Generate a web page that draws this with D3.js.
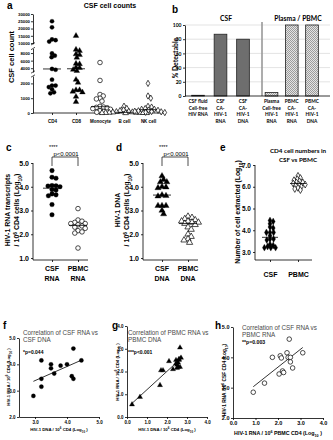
<!DOCTYPE html>
<html>
<head>
<meta charset="utf-8">
<script src="https://cdn.jsdelivr.net/npm/d3@7"></script>
<style>
  body { margin: 0; background: #fff; }
  svg { display: block; font-family: "Liberation Sans", Arial, sans-serif; }
</style>
</head>
<body>
<script>
// ---- data ----
// a: CSF cell counts
const cellTypes = ["CD4", "CD8", "Monocyte", "B cell", "NK cell"];
const cd4Cells = [25000, 20800, 12500, 12000, 11000, 7900, 7300, 6900, 3800, 3600, 2250, 1850, 1850, 1750, 1600, 1400, 1330];
const cd8Cells = [15000, 8900, 8600, 7700, 7500, 6800, 5200, 5100, 4200, 4100, 3600, 3300, 2250, 2050, 1550, 1550, 1450, 1400, 1100, 750];
const monoCells = [5500, 2200, 1250, 1150, 1000, 950, 800, 450, 400, 380, 350, 300, 250, 150, 100, 50];
const bCells = [450, 300, 200, 150, 100, 80, 60, 50, 40, 30, 20, 15, 10, 5, 5, 0];
const nkCells = [2000, 1150, 1000, 450, 400, 300, 250, 250, 200, 180, 150, 120, 100, 80, 50, 30];
const cellTicksLow = [0, 1000, 2000];
const cellTicksMid = [4000, 6000, 8000];
const cellTicksHigh = [10000, 15000, 20000, 25000, 30000];

// b: % detectable
const csfAssays = ["csfFree", "csfRna", "csfDna"];
const plasmaAssays = ["plasmaFree", "pbmcRna", "pbmcDna"];
const assayLines = {
  csfFree: ["CSF fluid", "Cell-free", "HIV RNA"],
  csfRna: ["CSF", "CA-", "HIV-1", "RNA"],
  csfDna: ["CSF", "CA-", "HIV-1", "DNA"],
  plasmaFree: ["Plasma", "Cell-free", "HIV-1", "RNA"],
  pbmcRna: ["PBMC", "CA-", "HIV-1", "RNA"],
  pbmcDna: ["PBMC", "CA-", "HIV-1", "DNA"]
};
const pctDetectable = { csfFree: 1, csfRna: 87, csfDna: 80, plasmaFree: 5, pbmcRna: 100, pbmcDna: 100 };
const pctTicks = [0, 20, 40, 60, 80, 100];

// c, d: per 10^6 CD4 (log10)
const csfRna = [4.68, 4.4, 4.36, 4.05, 4.03, 4.0, 4.04, 3.86, 3.88, 3.66, 3.62, 3.7, 3.25, 2.82];
const pbmcRna = [3.08, 2.6, 2.55, 2.5, 2.45, 2.45, 2.4, 2.35, 2.3, 2.25, 2.15, 2.1, 2.05, 1.42];
const csfDna = [4.45, 4.3, 4.2, 4.2, 4.0, 3.98, 3.95, 3.62, 3.65, 3.6, 3.2, 3.2, 3.2, 3.0, 2.85];
const pbmcDna = [2.75, 2.7, 2.65, 2.6, 2.55, 2.55, 2.5, 2.5, 2.45, 2.4, 2.3, 2.2, 2.0, 1.9, 1.8, 1.75, 1.65];
const logTicks15 = [1, 2, 3, 4, 5];

// e: CD4 cells extracted (log10)
const csfCd4 = [4.45, 4.4, 4.3, 4.15, 4.1, 3.9, 3.9, 3.9, 3.75, 3.6, 3.6, 3.55, 3.35, 3.3, 3.25, 3.2, 3.2, 3.2];
const pbmcCd4 = [6.5, 6.4, 6.35, 6.3, 6.25, 6.2, 6.2, 6.15, 6.1, 6.1, 6.05, 6.0, 5.95, 5.9, 5.85];
const logTicks37 = [3, 4, 5, 6, 7];

// f, g, h: correlations
const fDna = [2.95, 3.2, 3.2, 3.2, 3.5, 3.5, 3.6, 3.8, 4.0, 4.15, 4.2, 4.2, 4.45];
const fRna = [2.8, 4.15, 3.15, 3.45, 4.0, 3.85, 3.65, 3.95, 4.0, 3.55, 3.45, 4.6, 4.15];
const gDna = [0.25, 0.65, 1.65, 1.7, 1.8, 2.1, 2.3, 2.45, 2.45, 2.5, 2.5, 2.55, 2.55, 2.6, 2.6, 2.65, 2.65, 2.7];
const gRna = [0.55, 0.88, 1.4, 2.05, 2.05, 2.45, 2.1, 2.5, 2.35, 2.3, 2.15, 2.2, 2.4, 2.5, 2.55, 3.05, 2.2, 2.6];
const hPbmcRna = [0.9, 1.4, 1.75, 2.05, 2.1, 2.15, 2.2, 2.25, 2.4, 2.45, 2.5, 2.55, 2.55, 2.65, 3.1];
const hCsfRna = [2.85, 3.15, 4.0, 3.45, 4.05, 3.98, 3.55, 3.5, 4.15, 4.0, 4.6, 4.0, 3.85, 3.65, 4.15];

// ---- helpers ----
const svg = d3.select("body").append("svg").attr("width", 333).attr("height", 440);
const calibri = "Lato, 'Open Sans', sans-serif";

function rich(t, parts) {
  parts.forEach(p => {
    const [s, k] = typeof p === "string" ? [p, null] : p;
    const ts = t.append("tspan").text(s);
    if (k) ts.attr("baseline-shift", k === "sup" ? "super" : "sub").attr("font-size", "70%");
  });
  return t;
}

function styleAxis(g, size, weight) {
  g.attr("font-size", size).attr("font-family", null).attr("font-weight", weight || "bold");
  g.selectAll(".domain, .tick line").attr("stroke", "#000").attr("stroke-width", 0.8);
  g.selectAll("text").attr("fill", "#000");
  return g;
}

function catAxis(x, y0, x0, x1, size) {
  const g = svg.append("g").attr("transform", `translate(0,${y0})`)
    .call(d3.axisBottom(x).tickSize(2).tickSizeOuter(0).tickFormat(""));
  g.select(".domain").remove();
  g.append("line").attr("x1", x0).attr("x2", x1).attr("stroke", "#000").attr("stroke-width", 0.8);
  styleAxis(g, size);
  return g;
}

// simple beeswarm so overlapping values spread sideways (some overlap allowed, like the original)
function swarm(vals, y, cx, r) {
  const pts = vals.map(v => ({ v, y: y(v) })).sort((a, b) => d3.ascending(a.y, b.y));
  const done = [];
  pts.forEach(p => {
    for (let k = 0; k < 200; k++) {
      const off = (k % 2 ? 1 : -1) * Math.ceil(k / 2) * 0.4;
      if (done.every(q => Math.hypot(q.x - (cx + off), q.y - p.y) >= 2 * r)) { p.x = cx + off; break; }
    }
    done.push(p);
  });
  return pts;
}

const shapes = { circle: d3.symbolCircle, triangle: d3.symbolTriangle, diamond: d3.symbolDiamond };
function marks(pts, shape, filled, r) {
  const area = shape === "circle" ? Math.PI * r * r : shape === "triangle" ? 2.0 * r * r * 1.6 : 2.0 * r * r * 1.3;
  svg.append("g").selectAll("path").data(pts).join("path")
    .attr("transform", d => `translate(${d.x},${d.y})`)
    .attr("d", d3.symbol(shapes[shape], area))
    .attr("fill", filled ? "#000" : "#fff")
    .attr("stroke", "#000").attr("stroke-width", filled ? 0.3 : 0.7);
}

function medianLine(vals, y, cx, half) {
  const m = d3.median(vals);
  svg.append("line").attr("x1", cx - half).attr("x2", cx + half)
    .attr("y1", y(m)).attr("y2", y(m)).attr("stroke", "#000").attr("stroke-width", 0.8);
}

function panelLetter(s, x, y) {
  svg.append("text").attr("x", x).attr("y", y).attr("font-size", 10).attr("font-weight", "bold").text(s);
}

// ---- a ----
panelLetter("a", 7, 9);
svg.append("text").attr("x", 110).attr("y", 8).attr("text-anchor", "middle")
  .attr("font-size", 7).attr("font-weight", "bold").text("CSF cell counts");

const aSegs = [
  { s: d3.scaleLinear([0, 2500], [113, 76]), ticks: cellTicksLow },
  { s: d3.scaleLinear([3000, 9200], [72, 48.5]), ticks: cellTicksMid },
  { s: d3.scaleLinear([9500, 30000], [43.8, 14]), ticks: cellTicksHigh }
];
const ya = v => v <= 2500 ? aSegs[0].s(v) : v <= 9200 ? aSegs[1].s(v) : aSegs[2].s(v);
aSegs.forEach((seg, i) => {
  const g = svg.append("g").attr("transform", "translate(33,0)")
    .call(d3.axisLeft(seg.s).tickValues(seg.ticks).tickSize(2).tickSizeOuter(0).tickPadding(1).tickFormat(d3.format("d")));
  styleAxis(g, 4.3);
  seg.s.range().forEach((yy, j) => {
    if ((i === 0 && j === 0) || (i === 2 && j === 1)) return;
    svg.append("line").attr("x1", 31).attr("x2", 35).attr("y1", yy + 1.2).attr("y2", yy - 1.2)
      .attr("stroke", "#000").attr("stroke-width", 0.7);
  });
});
svg.append("text").attr("transform", "translate(14,57) rotate(-90)").attr("text-anchor", "middle")
  .attr("font-size", 7.5).attr("font-weight", "bold").text("CSF cell count");

const xa = d3.scalePoint(cellTypes, [52, 148]);
const ax = catAxis(xa, 113, 33, 163, 4.5);
ax.selectAll(".tick").append("text").attr("y", 10).attr("text-anchor", "middle")
  .attr("fill", "#000").text(d => d);

const aGroups = [
  [cd4Cells, "circle", true], [cd8Cells, "triangle", true], [monoCells, "circle", false],
  [bCells, "triangle", false], [nkCells, "diamond", false]
];
aGroups.forEach(([vals, shape, filled], i) => {
  const cx = xa(cellTypes[i]);
  marks(swarm(vals, ya, cx, 1.75), shape, filled, shape === "circle" && !filled ? 2.3 : 2.1);
  medianLine(vals, ya, cx, 9);
});

// ---- b ----
panelLetter("b", 172, 13);
const yb = d3.scaleLinear([0, 100], [96, 25]);
const xb1 = d3.scalePoint(csfAssays, [198, 243]);
const xb2 = d3.scalePoint(plasmaAssays, [271.5, 312]);
const xbPos = k => csfAssays.includes(k) ? xb1(k) : xb2(k);
const barW = 12.7, bLeft = 185, bRight = 330, dividerX = 262;

const defs = svg.append("defs");
const pat = defs.append("pattern").attr("id", "chk").attr("width", 2).attr("height", 2)
  .attr("patternUnits", "userSpaceOnUse");
pat.append("rect").attr("width", 2).attr("height", 2).attr("fill", "#e4e4e4");
pat.append("rect").attr("width", 1).attr("height", 1).attr("fill", "#9c9c9c");
pat.append("rect").attr("x", 1).attr("y", 1).attr("width", 1).attr("height", 1).attr("fill", "#9c9c9c");

svg.append("g").selectAll("line").data(pctTicks.slice(1)).join("line")
  .attr("x1", bLeft).attr("x2", bRight).attr("y1", d => yb(d)).attr("y2", d => yb(d))
  .attr("stroke", "#dcdcdc").attr("stroke-width", 0.8);
svg.append("line").attr("x1", dividerX).attr("x2", dividerX).attr("y1", 22).attr("y2", yb(0))
  .attr("stroke", "#999").attr("stroke-width", 1.6);

const allAssays = csfAssays.concat(plasmaAssays);
svg.append("g").selectAll("rect").data(allAssays).join("rect")
  .attr("x", d => xbPos(d) - barW / 2).attr("width", barW)
  .attr("y", d => yb(pctDetectable[d])).attr("height", d => yb(0) - yb(pctDetectable[d]))
  .attr("fill", d => csfAssays.includes(d) ? "#6e6e6e" : "url(#chk)")
  .attr("stroke", "#222").attr("stroke-width", 0.8);

const gb = svg.append("g").attr("transform", `translate(${bLeft},0)`)
  .call(d3.axisLeft(yb).tickValues(pctTicks).tickSize(2).tickSizeOuter(0).tickPadding(1.5));
styleAxis(gb, 5).attr("font-family", calibri);
svg.append("line").attr("x1", bLeft).attr("x2", bRight).attr("y1", yb(0)).attr("y2", yb(0))
  .attr("stroke", "#000").attr("stroke-width", 0.8);
svg.append("text").attr("transform", "translate(178,58) rotate(-90)").attr("text-anchor", "middle")
  .attr("font-family", calibri).attr("font-size", 6.8).attr("font-weight", "bold").text("% Detectable");
svg.append("text").attr("x", 226).attr("y", 21).attr("text-anchor", "middle").attr("font-family", calibri)
  .attr("font-size", 6.8).attr("font-weight", "bold").text("CSF");
svg.append("text").attr("x", 298).attr("y", 21).attr("text-anchor", "middle").attr("font-family", calibri)
  .attr("font-size", 6.8).attr("font-weight", "bold").text("Plasma / PBMC");
allAssays.forEach(k => {
  const t = svg.append("text").attr("text-anchor", "middle").attr("font-family", calibri)
    .attr("font-size", 4.8).attr("font-weight", "bold");
  assayLines[k].forEach((ln, i) => {
    t.append("tspan").attr("x", xbPos(k)).attr("y", 103 + i * 6.6).text(ln);
  });
});

// ---- c, d ----
function dotPanel(o) {
  panelLetter(o.letter, o.ox + 6, 151);
  const y = d3.scaleLinear([1, 5], [258, 163]);
  const x = d3.scalePoint(o.cats, [o.ox + 52, o.ox + 78]);
  const g = svg.append("g").attr("transform", `translate(${o.ox + 33},0)`)
    .call(d3.axisLeft(y).tickValues(logTicks15).tickSize(2).tickSizeOuter(0).tickPadding(2));
  g.select(".domain").attr("d", "M0,163V260");
  styleAxis(g, 7);
  catAxis(x, 260, o.ox + 33, o.ox + 88, 7);
  o.cats.forEach((c, i) => {
    const t = svg.append("text").attr("text-anchor", "middle").attr("font-size", 7).attr("font-weight", "bold");
    t.append("tspan").attr("x", x(c)).attr("y", 271).text(c);
    t.append("tspan").attr("x", x(c)).attr("y", 281).text(o.sub);
  });
  const yl = svg.append("text").attr("transform", `translate(${o.ox + 18},210) rotate(-90)`)
    .attr("text-anchor", "middle").attr("font-size", 7).attr("font-weight", "bold");
  yl.append("tspan").attr("x", 0).attr("dy", -8).text(o.ylab);
  const l2 = yl.append("tspan").attr("x", 0).attr("dy", 8.5);
  rich(l2, ["/ 10", ["6", "sup"], " CD4 cells (Log", ["10", "sub"], ")"]);
  // significance bracket
  const x0 = x(o.cats[0]), x1 = x(o.cats[1]);
  svg.append("path").attr("d", `M${x0},166V157H${x1}V166`).attr("fill", "none")
    .attr("stroke", "#000").attr("stroke-width", 0.7);
  svg.append("text").attr("x", x0 - 3).attr("y", 148.5).attr("font-size", 5.5).attr("fill", "#000").text("****");
  svg.append("text").attr("x", (x0 + x1) / 2 + 1).attr("y", 155.8).attr("text-anchor", "middle")
    .attr("font-size", 6).text("p<0.0001");
  o.groups.forEach(([vals, shape, filled], i) => {
    const cx = x(o.cats[i]);
    marks(swarm(vals, y, cx, 1.9), shape, filled, 2.3);
    medianLine(vals, y, cx, 9);
  });
}
dotPanel({ letter: "c", ox: 0, cats: ["CSF", "PBMC"], sub: "RNA", ylab: "HIV-1 RNA transcripts",
  groups: [[csfRna, "circle", true], [pbmcRna, "circle", false]] });
dotPanel({ letter: "d", ox: 110, cats: ["CSF", "PBMC"], sub: "DNA", ylab: "HIV-1 DNA",
  groups: [[csfDna, "triangle", true], [pbmcDna, "triangle", false]] });

// ---- e ----
panelLetter("e", 220, 151);
svg.append("text").attr("text-anchor", "middle").attr("font-family", calibri).attr("font-size", 6.3)
  .attr("font-weight", "bold").call(t => {
    t.append("tspan").attr("x", 298).attr("y", 153).text("CD4 cell numbers in");
    t.append("tspan").attr("x", 298).attr("y", 162).text("CSF vs PBMC");
  });
const ye = d3.scaleLinear([3, 7], [252, 165]);
const xe = d3.scalePoint(["CSF", "PBMC"], [270, 298]);
const ge = svg.append("g").attr("transform", "translate(255,0)")
  .call(d3.axisLeft(ye).tickValues(logTicks37).tickSize(2).tickSizeOuter(0).tickPadding(2));
ge.select(".domain").attr("d", "M0,165V260");
styleAxis(ge, 6.5);
const eax = catAxis(xe, 260, 255, 312, 7);
eax.selectAll(".tick").append("text").attr("y", 17).attr("text-anchor", "middle")
  .attr("fill", "#000").text(d => d);
rich(svg.append("text").attr("transform", "translate(240,212) rotate(-90)").attr("text-anchor", "middle")
  .attr("font-size", 6.8).attr("font-weight", "bold"), ["Number of cell extracted (Log", ["10", "sub"], ")"]);
[[csfCd4, true], [pbmcCd4, false]].forEach(([vals, filled], i) => {
  const cx = xe(xe.domain()[i]);
  marks(swarm(vals, ye, cx, 1.6), "diamond", filled, 2.3);
  medianLine(vals, ye, cx, 8);
});

// ---- f, g, h ----
function scatterPanel(o) {
  panelLetter(o.letter, o.lx, 329);
  const x = d3.scaleLinear(o.xd, o.xr), y = d3.scaleLinear(o.yd, o.yr);
  const gy = svg.append("g").attr("transform", `translate(${o.xr[0]},0)`)
    .call(d3.axisLeft(y).tickValues(o.yt).tickSize(2).tickSizeOuter(0).tickPadding(1.5));
  styleAxis(gy, o.tf);
  const gx = svg.append("g").attr("transform", `translate(0,${o.yr[0]})`)
    .call(d3.axisBottom(x).tickValues(o.xt).tickSize(2).tickSizeOuter(0).tickPadding(1.5));
  styleAxis(gx, o.tf);
  const t = svg.append("text").attr("fill", "#4a4a4a").attr("font-size", 6.3);
  o.title.forEach((s, i) => t.append("tspan").attr("x", o.tx).attr("y", o.ty + i * 7.2).text(s));
  svg.append("text").attr("x", o.tx).attr("y", o.py).attr("font-size", o.pf).attr("font-weight", "bold").text(o.p);
  rich(svg.append("text").attr("x", (o.xr[0] + o.xr[1]) / 2).attr("y", o.xly).attr("text-anchor", "middle")
    .attr("font-size", o.lf).attr("font-weight", "bold"), o.xlab);
  rich(svg.append("text").attr("transform", `translate(${o.ylx},${o.yly}) rotate(-90)`)
    .attr("text-anchor", "middle").attr("font-size", o.ylf || o.lf).attr("font-weight", "bold"), o.ylab);
  // least squares fit over the data range
  const mx = d3.mean(o.xs), my = d3.mean(o.ys);
  const slope = d3.sum(o.xs, (v, i) => (v - mx) * (o.ys[i] - my)) / d3.sum(o.xs, v => (v - mx) ** 2);
  const [a, b] = d3.extent(o.xs);
  svg.append("line").attr("x1", x(a)).attr("x2", x(b))
    .attr("y1", y(my + slope * (a - mx))).attr("y2", y(my + slope * (b - mx)))
    .attr("stroke", "#000").attr("stroke-width", 0.8);
  marks(o.xs.map((v, i) => ({ x: x(v), y: y(o.ys[i]) })), o.shape, o.filled, o.r);
}
const perCd4 = ["/ 10", ["6", "sup"], " CD4 (Log", ["10", "sub"], " )"];
scatterPanel({ letter: "f", lx: 3, xd: [2.5, 5], xr: [19, 99], yd: [2, 5], yr: [417, 338],
  xt: [3, 4, 5], yt: [2, 3, 4, 5], tf: 4.5, title: ["Correlation of CSF RNA vs", "CSF DNA"], tx: 23, ty: 335,
  p: "*p=0.044", py: 354, pf: 5, lf: 4.3, xly: 431, ylx: 10, yly: 377,
  xlab: ["HIV-1 DNA "].concat(perCd4), ylab: ["HIV-1 RNA "].concat(perCd4),
  xs: fDna, ys: fRna, shape: "circle", filled: true, r: 2.1 });
scatterPanel({ letter: "g", lx: 112, xd: [0, 4], xr: [127, 207], yd: [0, 4], yr: [417, 326],
  xt: [0, 1, 2, 3, 4], yt: [0, 1, 2, 3, 4], tf: 4.5, title: ["Correlation of PBMC RNA vs", "PBMC DNA"], tx: 128, ty: 335,
  p: "***p<0.001", py: 354, pf: 5, lf: 4.3, xly: 431, ylx: 119, yly: 372,
  xlab: ["HIV-1 DNA "].concat(perCd4), ylab: ["HIV-1 RNA "].concat(perCd4),
  xs: gDna, ys: gRna, shape: "triangle", filled: true, r: 1.9 });
scatterPanel({ letter: "h", lx: 215, xd: [0, 4], xr: [233, 323], yd: [2, 5], yr: [418, 327], xt: [0, 1, 2, 3, 4],
  yt: [2, 3, 4, 5], tf: 5.5, title: ["Correlation of CSF RNA vs", "PBMC RNA"], tx: 242, ty: 330,
  p: "**p=0.003", py: 344, pf: 5.2, lf: 5.3, ylf: 4.8, xly: 435, ylx: 226, yly: 380,
  xlab: ["HIV-1 RNA / 10", ["6", "sup"], " PBMC CD4 (Log", ["10", "sub"], " )"],
  ylab: ["HIV-1 RNA /10", ["6", "sup"], " CSF CD4 (Log", ["10", "sub"], ")"],
  xs: hPbmcRna, ys: hCsfRna, shape: "circle", filled: false, r: 2.3 });
</script>
</body>
</html>
